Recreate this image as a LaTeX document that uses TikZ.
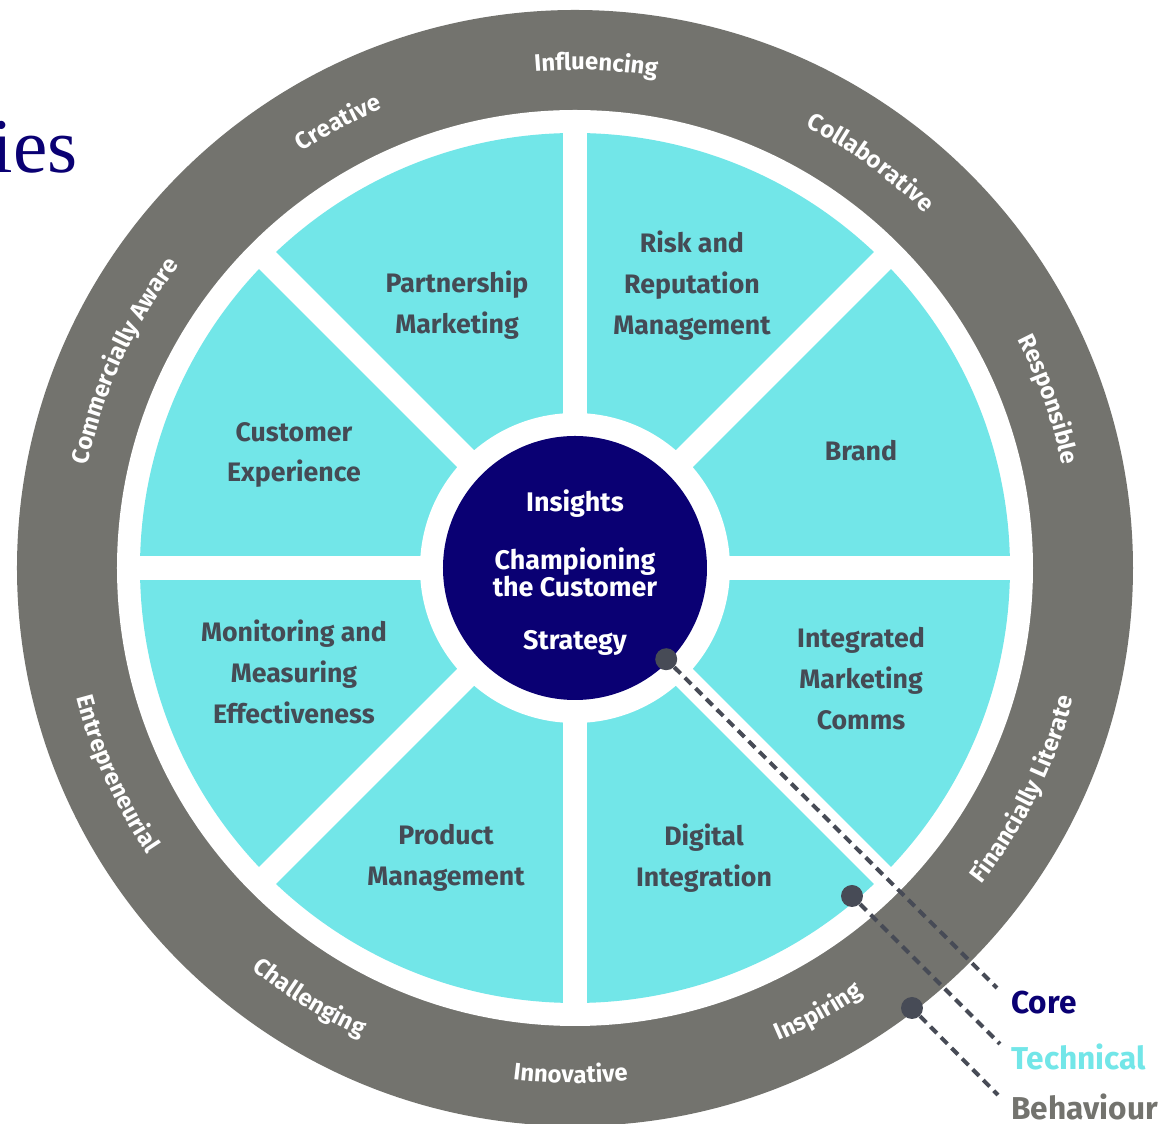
\documentclass[tikz,border=0pt]{standalone}
\usepackage{fontspec}
\setmainfont{Fira Sans}
\newfontfamily\titleserif{Liberation Serif}
\usepackage{tikz}
\usetikzlibrary{decorations.text}
\usetikzlibrary{positioning}
\definecolor{ringgrey}{RGB}{115,115,110}
\definecolor{segcyan}{RGB}{114,230,232}
\definecolor{corenavy}{RGB}{10,0,115}
\definecolor{labelgrey}{RGB}{69,75,85}
\definecolor{dotgrey}{RGB}{71,75,86}
\newcommand\segfont{\fontsize{15.2}{23.3}\selectfont\bfseries}
\newcommand\corefont{\fontsize{15.3}{15.4}\selectfont\bfseries}
\newcommand\ringfont{\fontsize{13.6}{16}\selectfont\bfseries}
\newcommand\legendfont{\fontsize{18}{20}\selectfont\bfseries}
\newcommand\toplabel[2]{\path[decorate, decoration={text along path, text align=center,
    text={|\color{white}\ringfont|#2}}] ({#1+60}:498) arc[start angle={#1+60}, end angle={#1-60}, radius=498];}
\newcommand\bottomlabel[2]{\path[decorate, decoration={text along path, text align=center,
    text={|\color{white}\ringfont|#2}}] ({#1-60}:515) arc[start angle={#1-60}, end angle={#1+60}, radius=515];}
\tikzset{
    gap/.style={draw=white, line width=0.48cm},
    seglabel/.style={font=\segfont, text=labelgrey, align=center},
    coretext/.style={font=\corefont, text=white, align=center},
    dot/.style={circle, fill=dotgrey, minimum size=0.44cm, inner sep=0pt},
    leader/.style={draw=dotgrey, line width=0.08cm, dash pattern=on 0.18cm off 0.12cm},
    legend/.style={font=\legendfont, anchor=base west, inner sep=0pt}
}

\begin{document}
\begin{tikzpicture}[x=0.02cm, y=0.02cm]
        \fill[white] (-575,-556) rectangle (592,568);
        \useasboundingbox (-575,-556) rectangle (592,568);
        \node[font=\titleserif\fontsize{44}{50}\selectfont, text=corenavy, anchor=base east, inner sep=0pt] (title) at (-497,395) {ies};

        \fill[ringgrey] (0,0) circle[radius=558];
        \fill[white] (0,0) circle[radius=458];
        \fill[segcyan] (0,0) circle[radius=435];
        \foreach \a in {0,45,...,315}
            \draw[gap] (0,0) -- (\a:442);
        \fill[white] (0,0) circle[radius=155];
        \fill[corenavy] (0,0) circle[radius=132];

        \node[coretext, anchor=base] (insights) at (0,56) {Insights};
        \node[coretext] (champion) at (0,-4) {Championing\\the Customer};
        \node[coretext, anchor=base] (strategy) at (0,-82) {Strategy};

        \node[seglabel] (partnership) at (-118,263) {Partnership\\Marketing};
        \node[seglabel] (risk) at (117,282) {Risk and\\Reputation\\Management};
        \node[seglabel] (brand) at (286,117) {Brand};
        \node[seglabel] (comms) at (286,-111) {Integrated\\Marketing\\Comms};
        \node[seglabel] (digital) at (129,-290) {Digital\\Integration};
        \node[seglabel] (product) at (-129,-290) {Product\\Management};
        \node[seglabel] (monitoring) at (-281,-104) {Monitoring and\\Measuring\\Effectiveness};
        \node[seglabel] (customer) at (-281,113) {Customer\\Experience};

        \toplabel{87.6}{Influencing}
        \toplabel{118}{Creative}
        \toplabel{53.9}{Collaborative}
        \toplabel{155.3}{Commercially Aware}
        \toplabel{19.6}{Responsible}
        \bottomlabel{204.2}{Entrepreneurial}
        \bottomlabel{-26.3}{Financially Literate}
        \bottomlabel{238.3}{Challenging}
        \bottomlabel{-61.3}{Inspiring}
        \bottomlabel{269.5}{Innovative}

        \node[dot] (coreDot) at (-45:129) {};
        \node[dot] (techDot) at (277,-328) {};
        \node[dot] (behDot) at (337,-440) {};
        \coordinate (coreEnd) at (422,-420);
        \coordinate (techEnd) at (425,-476);
        \coordinate (behEnd) at (423,-527);
        \draw[leader] (coreDot) -- (coreEnd);
        \draw[leader] (techDot) -- (techEnd);
        \draw[leader] (behDot) -- (behEnd);
        \node[legend, text=corenavy] (coreLbl) at (436,-446) {Core};
        \node[legend, text=segcyan] (techLbl) at (436,-502) {Technical};
        \node[legend, text=ringgrey] (behLbl) at (436,-552) {Behaviour};
\end{tikzpicture}
\end{document}
